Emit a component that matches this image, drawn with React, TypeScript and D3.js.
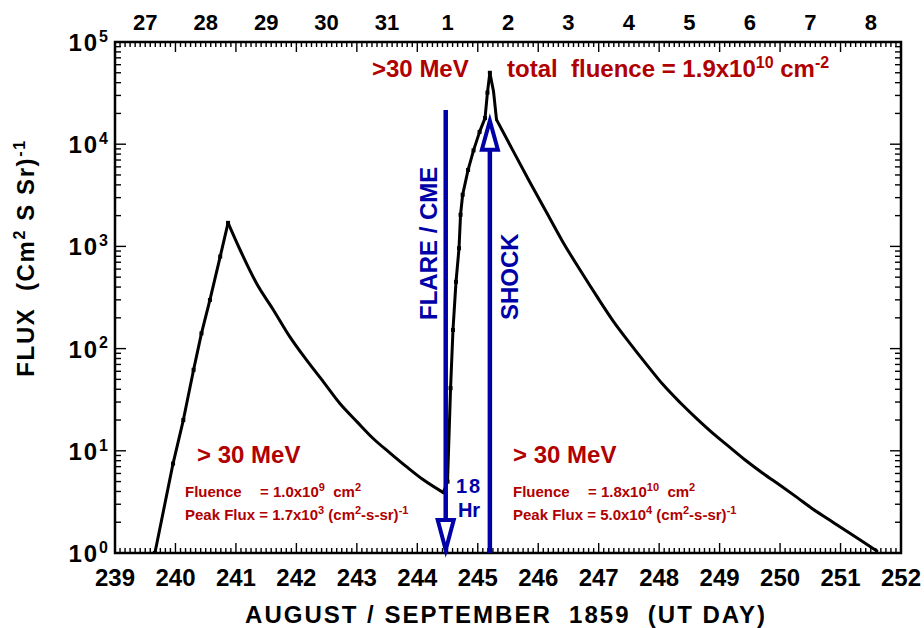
import React from 'react';
import * as d3 from 'd3';

const W = 924, H = 628;
const X0 = 115, X1 = 901, Y0 = 42, Y1 = 553;

// >30 MeV proton flux (day of year, flux)
const rise1Day = [239.66, 239.96, 240.13, 240.30, 240.43, 240.57, 240.74, 240.87];
const rise1Flux = [1.0, 7.5, 20, 62, 141, 299, 795, 1700];

const decay1Day = [241.07, 241.34, 241.62, 241.89, 242.17, 242.45, 242.72, 243.00, 243.27, 243.55, 243.82, 244.10, 244.43];
const decay1Flux = [922, 436, 239, 131, 77, 47, 29, 19.3, 13.2, 9.5, 7.0, 5.2, 3.9];

const rise2Day = [244.50, 244.55, 244.59, 244.64, 244.69, 244.715, 244.75, 244.84, 244.93, 245.03, 245.12, 245.16, 245.20];
const rise2Flux = [5.0, 41, 152, 450, 960, 2040, 3200, 5600, 8700, 13200, 18000, 32000, 50000];

const spikeDay = [245.26, 245.31];
const spikeFlux = [33000, 17400];

const decay2Day = [245.58, 245.86, 246.15, 246.41, 246.69, 246.97, 247.24, 247.52, 247.80, 248.06, 248.35,
  248.63, 248.89, 249.18, 249.45, 249.72, 250.00, 250.28, 250.54, 250.82, 251.11, 251.37, 251.60];
const decay2Flux = [8700, 4270, 2090, 1100, 590, 324, 186, 112, 69, 44.7, 29.5,
  20.4, 14.8, 10.7, 7.9, 6.0, 4.6, 3.5, 2.7, 2.1, 1.62, 1.29, 1.05];

const bottomDays = d3.range(239, 253);
const topDayLabels = ['27', '28', '29', '30', '31', '1', '2', '3', '4', '5', '6', '7', '8'];
const yExponents = [0, 1, 2, 3, 4, 5];
const ticksPerDay = 12;

// event markers
const flareDay = 244.47, flareTop = 21600;
const shockDay = 245.20, shockTop = 17000;

const RED = '#b00000';
const BLUE = '#0000a8';
const FONT = '"Liberation Sans", Arial, Helvetica, sans-serif';

type Part = { t: string; sup?: boolean };
type Pt = { day: number; flux: number };

function Rich(props: {
  x: number; y: number; parts: Part[]; size: number; supSize: number;
  anchor?: string; fill?: string; weight?: string; transform?: string; spacing?: number;
}) {
  const { x, y, parts, size, supSize, anchor = 'start', fill = '#000', weight = 'bold', transform, spacing = 0 } = props;
  const shift = size * 0.38;
  let up = false;
  return (
    <text x={x} y={y} textAnchor={anchor} fill={fill} fontWeight={weight} fontFamily={FONT}
      fontSize={size} transform={transform} letterSpacing={spacing} style={{ whiteSpace: 'pre' }}>
      {parts.map((p, i) => {
        let dy = 0;
        if (p.sup && !up) { dy = -shift; up = true; }
        else if (!p.sup && up) { dy = shift; up = false; }
        return <tspan key={i} dy={dy} fontSize={p.sup ? supSize : size}>{p.t}</tspan>;
      })}
    </text>
  );
}

export default function App() {
  const x = d3.scaleLinear().domain([239, 252]).range([X0, X1]);
  const y = d3.scaleLog().domain([1, 1e5]).range([Y1, Y0]);

  const toPts = (ds: number[], fs: number[]): Pt[] => ds.map((d, i) => ({ day: d, flux: fs[i] }));
  const r1 = toPts(rise1Day, rise1Flux), d1 = toPts(decay1Day, decay1Flux);
  const r2 = toPts(rise2Day, rise2Flux), sp = toPts(spikeDay, spikeFlux), d2 = toPts(decay2Day, decay2Flux);
  const last = (a: Pt[]) => a[a.length - 1];

  const straight = d3.line<Pt>().x(d => x(d.day)).y(d => y(d.flux));
  const smooth = d3.line<Pt>().x(d => x(d.day)).y(d => y(d.flux)).curve(d3.curveMonotoneX);

  const paths = [
    straight(r1), smooth([last(r1), ...d1]),
    straight([last(d1), ...r2, ...sp]), smooth([last(sp), ...d2]),
  ];
  const markerPts = [...r1, ...r2];

  const xTicks = d3.range(0, 13 * ticksPerDay + 1).map(i => ({ v: 239 + i / ticksPerDay, major: i % ticksPerDay === 0 }));
  const yTicks: { v: number; major: boolean }[] = [];
  for (let k = 0; k < 5; k++) for (let m = 1; m < 10; m++) yTicks.push({ v: m * Math.pow(10, k), major: m === 1 });
  yTicks.push({ v: 1e5, major: true });

  const fx = x(flareDay), sx = x(shockDay);
  const head = 8;

  return (
    <svg width={W} height={H} style={{ position: 'absolute', left: 0, top: 0, background: '#fff' }}>
      <defs>
        <clipPath id="plot"><rect x={X0} y={Y0} width={X1 - X0} height={Y1 - Y0} /></clipPath>
      </defs>

      {/* ticks */}
      <g stroke="#000" strokeWidth={1.4}>
        {xTicks.map((t, i) => (
          <g key={i}>
            <line x1={x(t.v)} x2={x(t.v)} y1={Y1} y2={Y1 - (t.major ? 10 : 5)} />
            <line x1={x(t.v)} x2={x(t.v)} y1={Y0} y2={Y0 + (t.major ? 10 : 5)} />
          </g>
        ))}
        {yTicks.map((t, i) => (
          <g key={i}>
            <line x1={X0} x2={X0 + (t.major ? 11 : 6)} y1={y(t.v)} y2={y(t.v)} />
            <line x1={X1} x2={X1 - (t.major ? 11 : 6)} y1={y(t.v)} y2={y(t.v)} />
          </g>
        ))}
      </g>

      {/* data */}
      <g clipPath="url(#plot)">
        {paths.map((d, i) => (
          <path key={i} d={d || ''} fill="none" stroke="#000" strokeWidth={3} strokeLinejoin="round" strokeLinecap="round" />
        ))}
        {markerPts.map((p, i) => (
          <rect key={i} x={x(p.day) - 2} y={y(p.flux) - 2} width={4} height={4} fill="#000" />
        ))}
      </g>

      <rect x={X0} y={Y0} width={X1 - X0} height={Y1 - Y0} fill="none" stroke="#000" strokeWidth={2.5} />

      {/* tick labels */}
      <g fontFamily={FONT} fontWeight="bold" fontSize={24} textAnchor="middle">
        {bottomDays.map(d => <text key={d} x={x(d)} y={586}>{d}</text>)}
        {topDayLabels.map((s, i) => <text key={i} x={x(239 + i + 0.5)} y={30} fontSize={22}>{s}</text>)}
      </g>
      {yExponents.map(e => (
        <Rich key={e} x={110} y={y(Math.pow(10, e)) + 9} anchor="end" size={24} supSize={16} spacing={2}
          parts={[{ t: '10' }, { t: String(e), sup: true }]} />
      ))}

      {/* axis titles */}
      <Rich x={506} y={623} anchor="middle" size={24} supSize={16} spacing={2}
        parts={[{ t: 'AUGUST / SEPTEMBER  1859  (UT DAY)' }]} />
      <Rich x={0} y={0} anchor="middle" size={24} supSize={16} spacing={1.6}
        transform="translate(34,258) rotate(-90)"
        parts={[{ t: 'FLUX  (Cm' }, { t: '2', sup: true }, { t: ' S Sr)' }, { t: '-1', sup: true }]} />

      {/* arrows */}
      <g stroke={BLUE} strokeWidth={4.5} fill="#fff" strokeLinejoin="miter">
        <line x1={fx} x2={fx} y1={y(flareTop)} y2={Y1 - 33} />
        <path d={`M${fx - head},${Y1 - 33} L${fx + head},${Y1 - 33} L${fx},${Y1 - 3} Z`} strokeWidth={4} />
        <line x1={sx} x2={sx} y1={Y1} y2={y(shockTop) + 29} />
        <path d={`M${sx - head},${y(shockTop) + 29} L${sx + head},${y(shockTop) + 29} L${sx},${y(shockTop)} Z`} strokeWidth={4} />
      </g>
      <g fill={BLUE} fontFamily={FONT} fontWeight="bold">
        <text transform="translate(437,320) rotate(-90)" fontSize={24}>FLARE / CME</text>
        <text transform="translate(518,320) rotate(-90)" fontSize={24}>SHOCK</text>
        <text x={469} y={493} fontSize={20} textAnchor="middle" letterSpacing={2}>18</text>
        <text x={469} y={517} fontSize={20} textAnchor="middle">Hr</text>
      </g>

      {/* red annotations */}
      <Rich x={372} y={77} size={24} supSize={16} fill={RED} parts={[{ t: '>30 MeV' }]} />
      <Rich x={507} y={77} size={24} supSize={16} fill={RED}
        parts={[{ t: 'total  fluence = 1.9x10' }, { t: '10', sup: true }, { t: ' cm' }, { t: '-2', sup: true }]} />

      <Rich x={197} y={463} size={24} supSize={16} fill={RED} parts={[{ t: '> 30 MeV' }]} />
      <Rich x={185} y={497} size={15} supSize={11} fill={RED} parts={[{ t: 'Fluence' }]} />
      <Rich x={260} y={497} size={15} supSize={11} fill={RED}
        parts={[{ t: '= 1.0x10' }, { t: '9', sup: true }, { t: '  cm' }, { t: '2', sup: true }]} />
      <Rich x={185} y={520} size={15} supSize={11} fill={RED}
        parts={[{ t: 'Peak Flux = 1.7x10' }, { t: '3', sup: true }, { t: ' (cm' }, { t: '2', sup: true }, { t: '-s-sr)' }, { t: '-1', sup: true }]} />

      <Rich x={513} y={463} size={24} supSize={16} fill={RED} parts={[{ t: '> 30 MeV' }]} />
      <Rich x={513} y={497} size={15} supSize={11} fill={RED} parts={[{ t: 'Fluence' }]} />
      <Rich x={588} y={497} size={15} supSize={11} fill={RED}
        parts={[{ t: '= 1.8x10' }, { t: '10', sup: true }, { t: '  cm' }, { t: '2', sup: true }]} />
      <Rich x={513} y={520} size={15} supSize={11} fill={RED}
        parts={[{ t: 'Peak Flux = 5.0x10' }, { t: '4', sup: true }, { t: ' (cm' }, { t: '2', sup: true }, { t: '-s-sr)' }, { t: '-1', sup: true }]} />
    </svg>
  );
}
